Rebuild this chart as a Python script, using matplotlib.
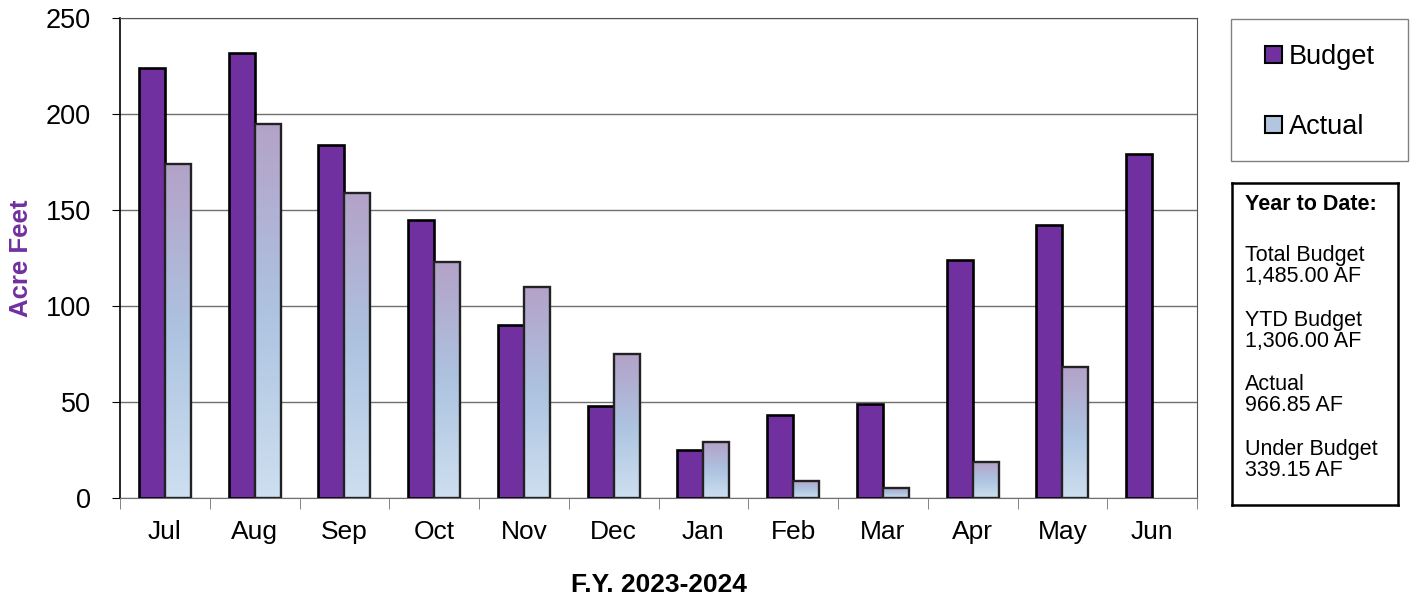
import numpy as np
import matplotlib
matplotlib.use('Agg')
import matplotlib.pyplot as plt
from matplotlib.colors import LinearSegmentedColormap
from matplotlib.patches import Rectangle

plt.rcParams['font.family'] = ['Liberation Sans', 'DejaVu Sans']

# данные
months = ['Jul', 'Aug', 'Sep', 'Oct', 'Nov', 'Dec', 'Jan', 'Feb', 'Mar', 'Apr', 'May', 'Jun']
budget = [224, 232, 184, 145, 90, 48, 25, 43, 49, 124, 142, 179]
actual = [174, 195, 159, 123, 110, 75, 29, 9, 5, 19, 68, None]
yticks = [0, 50, 100, 150, 200, 250]
summary = ['Total Budget\n1,485.00 AF', 'YTD Budget\n1,306.00 AF',
           'Actual\n966.85 AF', 'Under Budget\n339.15 AF']

purple = '#7030a0'
grad = LinearSegmentedColormap.from_list('g', ['#cddff0', '#adc3e0', '#b4a2c8'])

W, H = 1411, 598
fig = plt.figure(figsize=(W / 100, H / 100), dpi=100)
ax = fig.add_axes([120 / W, 100 / H, 1077 / W, 480 / H])

x = np.arange(len(months))
w = 0.29
ax.bar(x - w / 2, budget, w, color=purple, edgecolor='black', linewidth=1.9, zorder=3)

act_x = [xi + w / 2 for xi, v in zip(x, actual) if v is not None]
act_v = [v for v in actual if v is not None]
bars = ax.bar(act_x, act_v, w, color='none', edgecolor='#222222', linewidth=1.7, zorder=4)
g = np.linspace(0, 1, 256).reshape(-1, 1)
for b in bars:
    im = ax.imshow(g, cmap=grad, origin='lower', aspect='auto', zorder=3,
                   extent=[b.get_x(), b.get_x() + b.get_width(), 0, b.get_height()])
    im.set_clip_path(b)

ax.set_xlim(-0.5, 11.5)
ax.set_ylim(0, 250)
ax.set_yticks(yticks)
ax.yaxis.grid(True, color='#707070', linewidth=1.0, zorder=0)
ax.set_axisbelow(True)
ax.tick_params(axis='y', labelsize=19.5, length=6, direction='out', pad=15)
ax.set_xticks(x)
ax.set_xticklabels(months, fontsize=19)
ax.set_xticks(np.arange(-0.5, 12, 1), minor=True)
ax.tick_params(axis='x', which='major', length=0, pad=15.5)
ax.tick_params(axis='x', which='minor', length=8, color='#707070')
for s in ['top', 'right']:
    ax.spines[s].set_color('#555555')
ax.spines['left'].set_linewidth(1.2)
ax.spines['bottom'].set_color('#707070')

ax.set_ylabel('Acre Feet', fontsize=18.5, fontweight='bold', color=purple, labelpad=9)
ax.set_xlabel('F.Y. 2023-2024', fontsize=19, fontweight='bold', labelpad=21)

# рамка легенды
fig.patches.append(Rectangle((1231 / W, 1 - 161 / H), 177 / W, 142 / H, transform=fig.transFigure,
                             facecolor='white', edgecolor='#808080', linewidth=1.0))
h1 = Rectangle((0, 0), 1, 1, facecolor=purple, edgecolor='black', linewidth=1.5)
h2 = Rectangle((0, 0), 1, 1, facecolor='#b3c5df', edgecolor='black', linewidth=1.5)
leg = fig.legend(handles=[h1, h2], labels=['Budget', 'Actual'],
                 loc='center', bbox_to_anchor=(1320 / W, 1 - 92 / H),
                 fontsize=19.5, frameon=False,
                 handlelength=0.6, handleheight=0.6, handletextpad=0.25,
                 labelspacing=1.6, borderpad=0, borderaxespad=0)

# блок с итогами
bx = fig.add_axes([1232 / W, 1 - 505 / H, 166 / W, 322 / H])
bx.set_xticks([])
bx.set_yticks([])
for s in bx.spines.values():
    s.set_linewidth(1.8)
bx.text(0.08, 0.965, 'Year to Date:', fontsize=15.5, fontweight='bold', va='top', transform=bx.transAxes)
for i, t in enumerate(summary):
    bx.text(0.08, 0.806 - i * 0.2, t, fontsize=15.5, va='top', linespacing=1.0, transform=bx.transAxes)

fig.savefig('out.png', dpi=100)
